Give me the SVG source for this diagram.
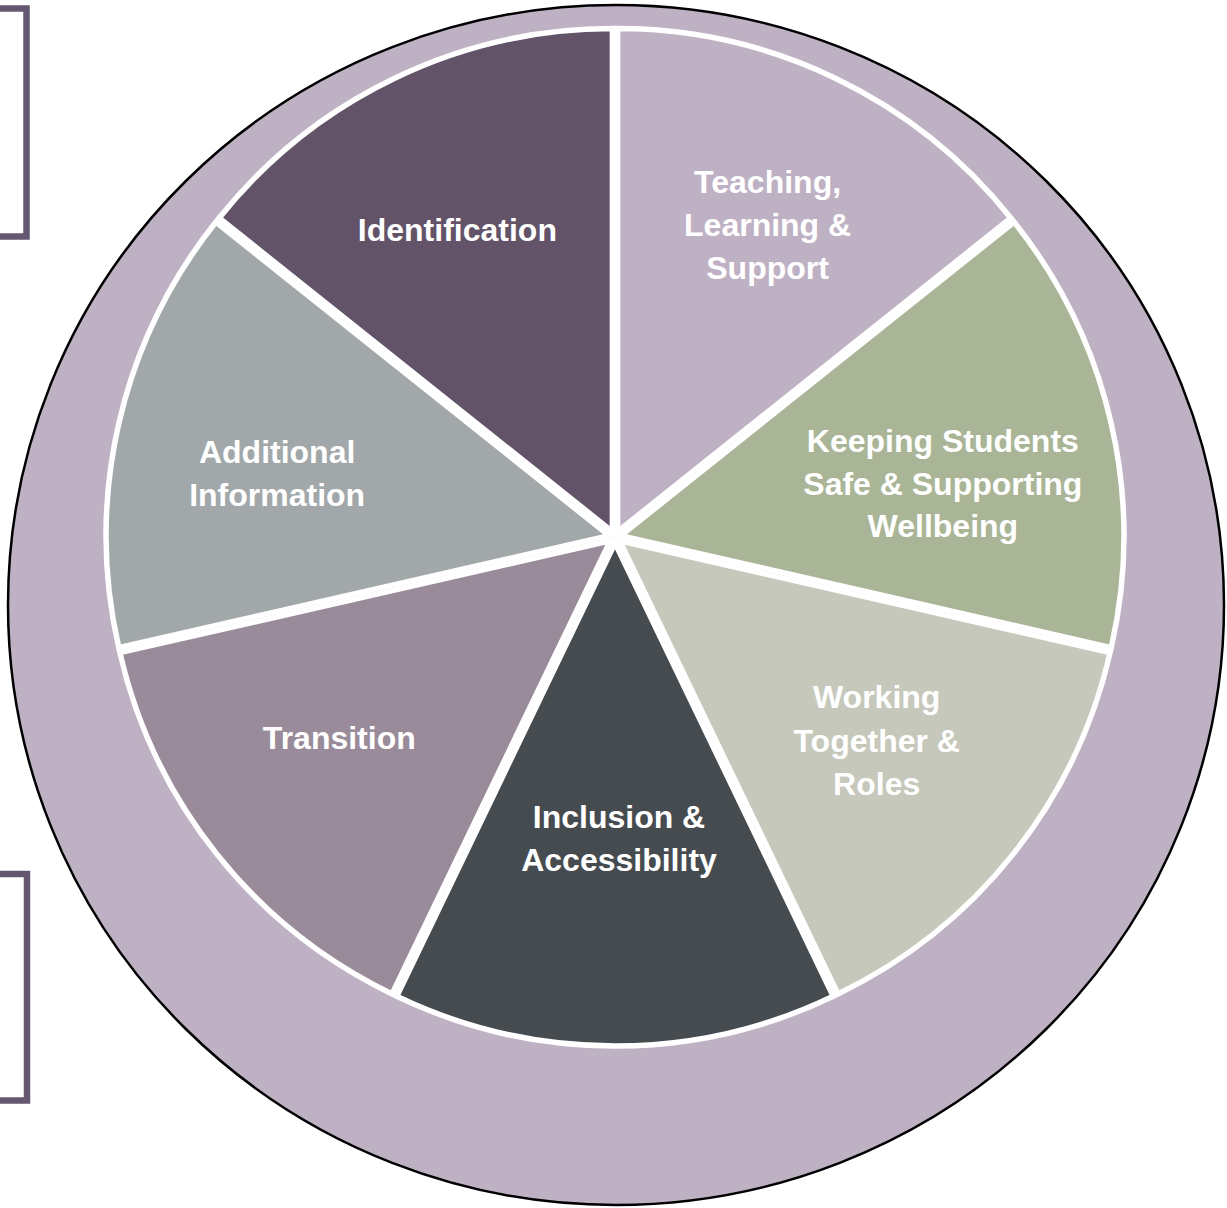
<svg xmlns="http://www.w3.org/2000/svg" width="1227" height="1208" viewBox="0 0 1227 1208">
<style>
.bracket{fill:none;stroke:#635870;stroke-width:6.5}
.slice{stroke:#ffffff;stroke-width:5.5;stroke-linejoin:miter}
.lbl{font-family:"Liberation Sans",Arial,sans-serif;font-weight:bold;font-size:32px;fill:#ffffff;text-anchor:middle}
</style>
<rect width="1227" height="1208" fill="#ffffff"/>
<g id="bracket-top"><rect class="bracket" x="-20" y="8.5" width="46.5" height="228"/></g>
<g id="bracket-bottom"><rect class="bracket" x="-20" y="874" width="47" height="226.5"/></g>
<g id="outer-ring"><ellipse cx="616" cy="605" rx="608" ry="600" fill="#BFB1C4" stroke="#000000" stroke-width="2.5"/></g>
<g id="connectors"></g>
<g id="teaching" transform="translate(2.6,-5.4)">
<path class="slice" fill="#BFB1C4" d="M615,537 L615,34 A503,503 0 0 1 1008.26,223.38 Z"/>
<text class="lbl" x="765" y="198">Teaching,</text>
<text class="lbl" x="765" y="241">Learning &amp;</text>
<text class="lbl" x="765" y="284">Support</text>
</g>
<g id="keeping" transform="translate(5.85,-1.34)">
<path class="slice" fill="#A9B596" d="M615,537 L1008.26,223.38 A503,503 0 0 1 1105.39,648.93 Z"/>
<text class="lbl" x="937" y="453">Keeping Students</text>
<text class="lbl" x="937" y="496">Safe &amp; Supporting</text>
<text class="lbl" x="937" y="538">Wellbeing</text>
</g>
<g id="working" transform="translate(4.69,3.74)">
<path class="slice" fill="#C5C8BA" d="M615,537 L1105.39,648.93 A503,503 0 0 1 833.24,990.19 Z"/>
<text class="lbl" x="872" y="704">Working</text>
<text class="lbl" x="872" y="748">Together &amp;</text>
<text class="lbl" x="872" y="791">Roles</text>
</g>
<g id="inclusion" transform="translate(0,6)">
<path class="slice" fill="#464B4F" d="M615,537 L833.24,990.19 A503,503 0 0 1 396.76,990.19 Z"/>
<text class="lbl" x="619" y="822">Inclusion &amp;</text>
<text class="lbl" x="619" y="865">Accessibility</text>
</g>
<g id="transition" transform="translate(-4.69,3.74)">
<path class="slice" fill="#9A8B9B" d="M615,537 L396.76,990.19 A503,503 0 0 1 124.61,648.93 Z"/>
<text class="lbl" x="344" y="745">Transition</text>
</g>
<g id="additional" transform="translate(-5.85,-1.34)">
<path class="slice" fill="#A2A8AA" d="M615,537 L124.61,648.93 A503,503 0 0 1 221.74,223.38 Z"/>
<text class="lbl" x="283" y="464">Additional</text>
<text class="lbl" x="283" y="507">Information</text>
</g>
<g id="identification" transform="translate(-2.6,-5.4)">
<path class="slice" fill="#625368" d="M615,537 L221.74,223.38 A503,503 0 0 1 615,34 Z"/>
<text class="lbl" x="460" y="246">Identification</text>
</g>
</svg>
